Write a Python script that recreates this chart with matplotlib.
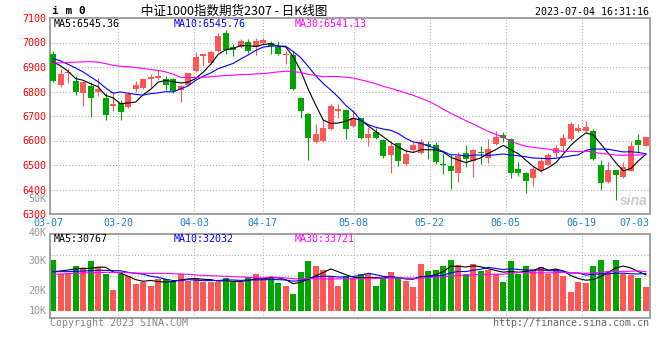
import matplotlib
matplotlib.use("Agg")
import matplotlib.pyplot as plt
import matplotlib.transforms as mtrans
import numpy as np

# ---------------- data ----------------
dates = ["03-07","03-08","03-09","03-10","03-13","03-14","03-15","03-16","03-17","03-20",
         "03-21","03-22","03-23","03-24","03-27","03-28","03-29","03-30","03-31","04-03",
         "04-04","04-06","04-07","04-10","04-11","04-12","04-13","04-14","04-17","04-18",
         "04-19","04-20","04-21","04-24","04-25","04-26","04-27","04-28","05-04","05-05",
         "05-08","05-09","05-10","05-11","05-12","05-15","05-16","05-17","05-18","05-19",
         "05-22","05-23","05-24","05-25","05-26","05-29","05-30","05-31","06-01","06-02",
         "06-05","06-06","06-07","06-08","06-09","06-12","06-13","06-14","06-15","06-16",
         "06-19","06-20","06-21","06-26","06-27","06-28","06-29","06-30","07-03","07-04"]

opens  = [6952,6826,6876,6843,6792,6823,6796,6774,6741,6754,
          6736,6810,6815,6853,6857,6849,6849,6805,6826,6883,
          6946,6918,6966,7039,6982,6980,7000,6980,7000,6996,
          6980,6951,6951,6774,6707,6592,6597,6646,6721,6724,
          6658,6690,6610,6635,6604,6540,6589,6503,6560,6547,
          6585,6581,6503,6497,6468,6551,6515,6554,6530,6585,
          6622,6605,6483,6469,6448,6479,6502,6547,6578,6605,
          6639,6639,6638,6499,6431,6479,6450,6477,6601,6578]
highs  = [6965,6891,6895,6862,6843,6839,6856,6794,6792,6765,
          6795,6842,6856,6873,6887,6863,6856,6826,6875,6962,
          6955,6971,7037,7050,6993,7013,7013,7019,7020,7007,
          7005,6964,6964,6778,6714,6667,6683,6747,6747,6728,
          6724,6692,6656,6649,6608,6594,6590,6567,6594,6608,
          6598,6592,6551,6540,6554,6581,6567,6577,6608,6638,
          6635,6610,6513,6472,6496,6533,6547,6581,6628,6676,
          6667,6679,6646,6520,6513,6479,6513,6598,6626,6614]
lows   = [6840,6819,6834,6785,6740,6696,6782,6683,6721,6683,
          6731,6799,6810,6819,6846,6805,6792,6758,6823,6880,
          6905,6914,6962,6955,6946,6976,6959,6951,6996,6955,
          6948,6914,6805,6690,6519,6588,6594,6642,6690,6605,
          6654,6608,6578,6605,6529,6469,6496,6499,6554,6543,
          6526,6506,6465,6401,6431,6492,6451,6506,6510,6581,
          6594,6447,6454,6386,6415,6472,6499,6533,6554,6601,
          6633,6633,6520,6400,6425,6356,6445,6474,6551,6578]
closes = [6844,6871,6880,6798,6837,6774,6809,6703,6748,6717,
          6790,6826,6850,6860,6864,6826,6801,6823,6875,6941,
          6952,6962,7027,6969,6971,7005,6966,7007,7011,6986,
          6952,6955,6809,6721,6610,6628,6649,6741,6728,6646,
          6690,6610,6626,6612,6537,6577,6517,6544,6581,6592,
          6578,6513,6499,6476,6536,6526,6560,6547,6567,6615,
          6612,6468,6468,6435,6485,6517,6540,6570,6611,6667,
          6652,6656,6524,6427,6479,6458,6490,6577,6581,6614]
volumes = [43270,31390,31960,38180,36480,42420,37330,31390,17820,31390,
           29690,22910,24320,21210,26870,27150,25450,31110,25730,28000,
           24320,24320,24320,28000,24320,24320,28850,31390,27710,28850,
           23760,21210,14420,33090,42420,38180,34780,29980,21210,29980,
           27710,31390,31390,21210,28280,33090,27710,25450,20360,39870,
           33940,34780,38180,43270,39030,31390,39870,34220,34780,31390,
           24600,42420,31390,38180,35630,37330,31110,35630,29980,16120,
           24890,24040,38460,43270,33940,43270,31390,30540,28000,20640]

ma5_head  = [6921, 6905, 6883, 6853]
ma10_head = [6935, 6925, 6911, 6896, 6880, 6860, 6840, 6815, 6793]
ma30_head = [6917, 6917, 6918, 6920, 6921, 6922, 6920, 6914, 6907, 6903,
             6901, 6898, 6894, 6890, 6886, 6880, 6871, 6858, 6857, 6857,
             6858, 6860, 6863, 6865, 6867, 6869, 6869, 6872, 6873]
vma5_head  = [33370, 33940, 34780, 35630]
vma10_head = [33370, 33370, 33370, 33650, 33940, 34220, 34500, 34500, 34220]
vma30_head = [31110, 31390, 31670, 31960, 32240, 32520, 32520, 32800, 32800, 32800,
              32520, 32240, 31960, 31960, 31960, 31960, 31670, 31390, 31110, 30540,
              30260, 29980, 29690, 29410, 29130, 28850, 28560, 28280, 28000]

tick_labels = ["03-07", "03-20", "04-03", "04-17", "05-08", "05-22", "06-05", "06-19", "07-03"]
price_ticks = [6300, 6400, 6500, 6600, 6700, 6800, 6900, 7000, 7100]

title_code = "i m 0"
title_text = "中证1000指数期货2307 - 日K线图"
stamp = "2023-07-04 16:31:16"
price_ma_text = ["MA5:6545.36", "MA10:6545.76", "MA30:6541.13"]
vol_ma_text = ["MA5:30767", "MA10:32032", "MA30:33721"]
vol_labels = ["50K", "40K", "30K", "20K", "10K"]

# ---------------- helpers ----------------
def moving(values, n, head):
    v = np.asarray(values, float)
    out = np.empty(len(v))
    out[:n - 1] = head
    out[n - 1:] = np.convolve(v, np.ones(n) / n, mode="valid")
    return out

W, H = 660, 360
def fx(px): return px / W
def fy(py): return 1 - py / H

RED = "#FF5656"
GREEN = "#00A600"
GRID = "#AAAAAA"
BORDER = "#999999"
MONO = "DejaVu Sans Mono"
FS = 7.2
LW = 0.8

fig = plt.figure(figsize=(6.6, 3.6), dpi=100)
fig.patch.set_facecolor("white")

ax = fig.add_axes([fx(50), fy(214), 600 / W, 196 / H])
axv = fig.add_axes([fx(50), fy(318), 600 / W, 84 / H])

n = len(dates)
x = np.arange(n)
o = np.array(opens); c = np.array(closes); h = np.array(highs); l = np.array(lows)
up = c >= o
cols = [RED if u else GREEN for u in up]

xl = (-0.4, 79.54)
tick_idx = np.array([dates.index(t) for t in tick_labels])
# the date grid uses slots of width/(n-1) starting at the panel's left edge
grid_pos = xl[0] + tick_idx * (xl[1] - xl[0]) / (n - 1)

for a in (ax, axv):
    a.set_xlim(*xl)
    for s in a.spines.values():
        s.set_color(BORDER)
        s.set_linewidth(1.3)
    a.tick_params(length=0)
    for gp in grid_pos[1:-1]:
        a.axvline(gp, color=GRID, lw=0.75, ls=(0, (1, 2)), zorder=0)

# ---- price panel ----
ax.set_ylim(6300, 7100)
for p in price_ticks[1:-1]:
    ax.axhline(p, color=GRID, lw=0.75, ls=(0, (1, 2)), zorder=0)

ax.vlines(x, l, h, colors=cols, lw=0.8, zorder=2)
body = np.maximum(np.abs(c - o), 1.5)
ax.bar(x, body, bottom=np.minimum(o, c), width=0.8, color=cols, linewidth=0, zorder=3)

ax.plot(x, moving(closes, 5, ma5_head), color="black", lw=LW, zorder=4)
ax.plot(x, moving(closes, 10, ma10_head), color="#0000FF", lw=LW, zorder=4)
ax.plot(x, moving(closes, 30, ma30_head), color="#FF00FF", lw=LW, zorder=4)

ax.set_yticks(price_ticks)
ax.set_yticklabels([str(p) for p in price_ticks], color="#FF0000", fontsize=FS, family=MONO)
ax.tick_params(axis="y", pad=2.5)
ax.set_xticks(grid_pos)
ax.set_xticklabels(tick_labels, color="#1A7FD6", fontsize=FS, family=MONO)
ax.tick_params(axis="x", pad=3.2)
last = ax.get_xticklabels()[-1]
last.set_horizontalalignment("right")
last.set_transform(last.get_transform() +
                   mtrans.ScaledTranslation(7 / 100, 0, fig.dpi_scale_trans))
first = ax.get_xticklabels()[0]
first.set_transform(first.get_transform() +
                    mtrans.ScaledTranslation(-1.5 / 100, 0, fig.dpi_scale_trans))

# ---- volume panel ----
axv.set_ylim(-5940, 65330)
y0, y1 = axv.get_ylim()
for f in (0.25, 0.5, 0.75):
    axv.axhline(y0 + f * (y1 - y0), color=GRID, lw=0.75, ls=(0, (1, 2)), zorder=0)
axv.bar(x, volumes, width=0.8, color=cols, linewidth=0, zorder=2)
axv.plot(x, moving(volumes, 5, vma5_head), color="black", lw=LW, zorder=4)
axv.plot(x, moving(volumes, 10, vma10_head), color="#0000FF", lw=LW, zorder=4)
axv.plot(x, moving(volumes, 30, vma30_head), color="#FF00FF", lw=LW, zorder=4)
axv.set_xticks([])
axv.set_yticks([])

# volume axis labels (positions as drawn in the reference)
for lab, py in zip(vol_labels, [199.5, 232.5, 261, 291, 311]):
    fig.text(fx(46.5), fy(py), lab, color=BORDER, fontsize=FS, family=MONO,
             ha="right", va="center")

# ---- header texts ----
fig.text(fx(52), fy(11.5), title_code, fontsize=8, family=MONO, weight="bold",
         ha="left", va="center")
fig.text(fx(141), fy(11.5), title_text, fontsize=9,
         family=["Noto Sans CJK SC", "DejaVu Sans"], ha="left", va="center")
fig.text(fx(649), fy(12), stamp, fontsize=FS, family=MONO, ha="right", va="center")

for txt, px, col in zip(price_ma_text, [54, 174, 295], ["black", "#0000FF", "#FF00FF"]):
    fig.text(fx(px), fy(23.7), txt, color=col, fontsize=FS, family=MONO, ha="left", va="center")
for txt, px, col in zip(vol_ma_text, [54, 174, 295], ["black", "#0000FF", "#FF00FF"]):
    fig.text(fx(px), fy(238.5), txt, color=col, fontsize=FS, family=MONO, ha="left", va="center")

fig.text(fx(50), fy(323.5), "Copyright 2023 SINA.COM", color="#888888", fontsize=FS,
         family=MONO, ha="left", va="center")
fig.text(fx(649), fy(323.5), "http://finance.sina.com.cn", color="#666666", fontsize=FS,
         family=MONO, ha="right", va="center")
fig.text(fx(634), fy(201), "sina", color="#C8C8C8", fontsize=10, style="italic",
         weight="bold", family="Liberation Sans", ha="center", va="center", alpha=0.9)

fig.savefig("out.png", dpi=100, facecolor="white")
